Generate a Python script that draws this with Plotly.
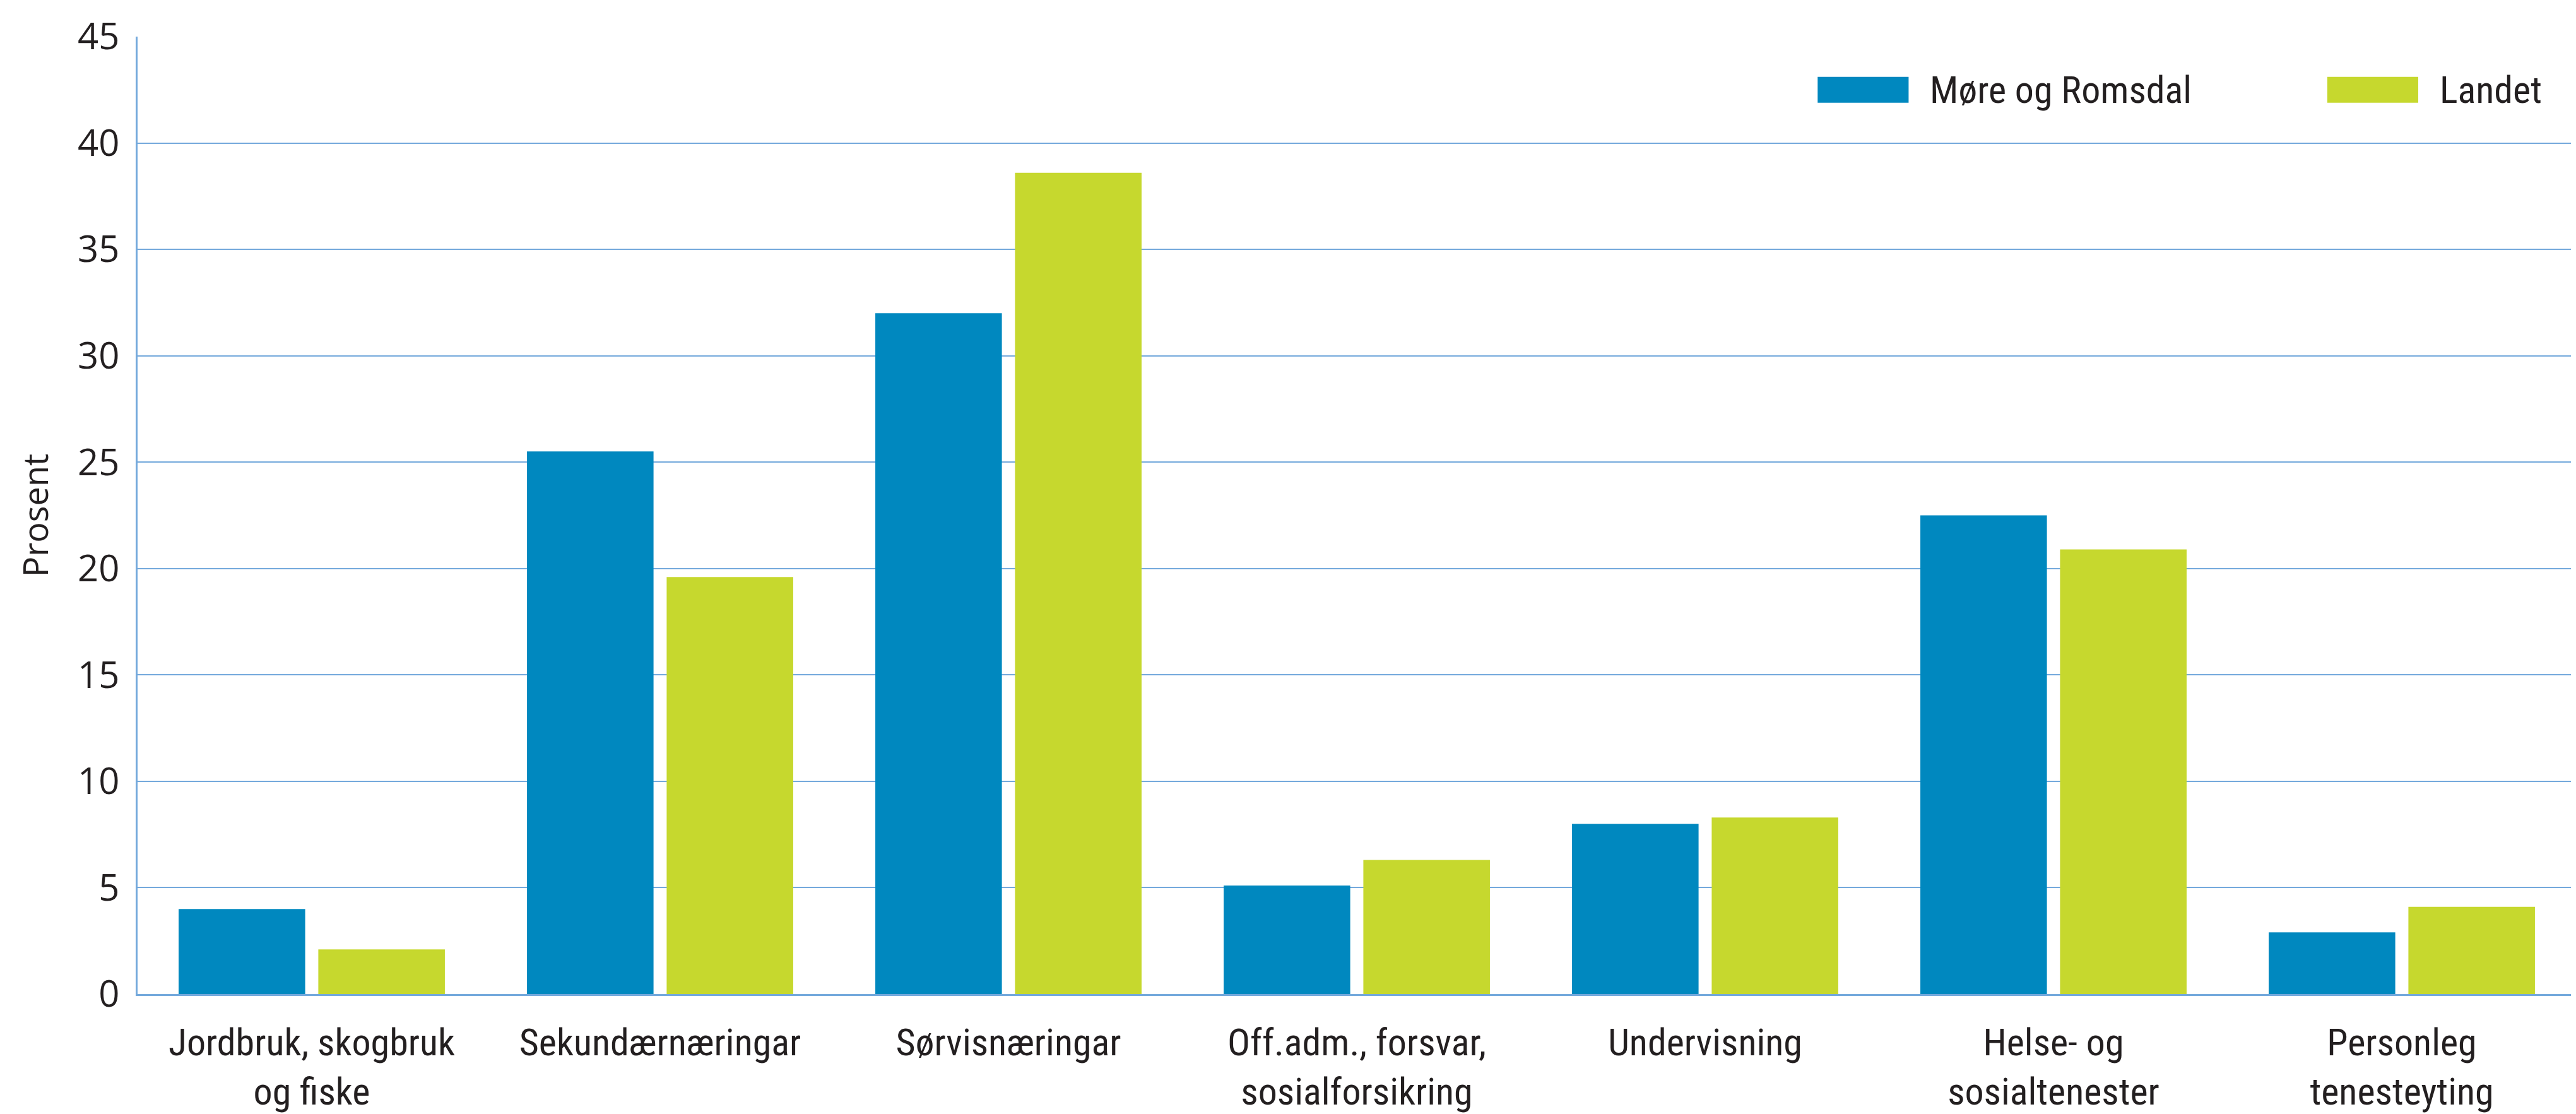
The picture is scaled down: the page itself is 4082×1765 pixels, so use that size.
import plotly.graph_objects as go

categories = [
    "Jordbruk, skogbruk<br>og fiske",
    "Sekundærnæringar",
    "Sørvisnæringar",
    "Off.adm., forsvar,<br>sosialforsikring",
    "Undervisning",
    "Helse- og<br>sosialtenester",
    "Personleg<br>tenesteyting",
]
more_romsdal = [4.0, 25.5, 32.0, 5.1, 8.0, 22.5, 2.9]
landet = [2.1, 19.6, 38.6, 6.3, 8.3, 20.9, 4.1]
series_names = ["Møre og Romsdal", "Landet"]
y_ticks = [0, 5, 10, 15, 20, 25, 30, 35, 40, 45]

BLUE = "#0088BF"
GREEN = "#C6D82E"
GRID = "#74A9DC"
TEXT = "#231F20"
NARROW = "Liberation Sans Narrow, Roboto Condensed, Arial Narrow, Roboto, sans-serif"
REGULAR = "Open Sans, Noto Sans, sans-serif"

fig = go.Figure()
fig.add_trace(go.Bar(x=categories, y=more_romsdal, name=series_names[0],
                     marker=dict(color=BLUE, line=dict(width=0))))
fig.add_trace(go.Bar(x=categories, y=landet, name=series_names[1],
                     marker=dict(color=GREEN, line=dict(width=0))))

fig.update_layout(
    width=4082, height=1765,
    margin=dict(l=210, r=8, t=38, b=178, pad=0),
    paper_bgcolor="white", plot_bgcolor="white",
    barmode="group", bargap=0.198, bargroupgap=0.094,
    showlegend=False,
    font=dict(family=REGULAR, color=TEXT, size=56),
)
fig.update_xaxes(
    showgrid=False, showline=True, linecolor=GRID, linewidth=3,
    ticks="", tickfont=dict(family=NARROW, size=60, color=TEXT),
    ticklabelstandoff=22,
)
fig.update_yaxes(
    range=[0, 45], tickvals=y_ticks, showgrid=True, gridcolor=GRID, gridwidth=2,
    showline=True, linecolor=GRID, linewidth=3, zeroline=False,
    ticks="", tickfont=dict(family=REGULAR, size=58, color=TEXT),
    ticklabelstandoff=14, ticklabeloverflow="allow",
    title=dict(text="Prosent", font=dict(family=REGULAR, size=54, color=TEXT), standoff=30),
)

# Legend drawn at top right
legend_items = [(series_names[0], BLUE, 0.689, 0.7345), (series_names[1], GREEN, 0.898, 0.9435)]
for name, col, x0, xt in legend_items:
    fig.add_shape(type="rect", xref="paper", yref="paper", x0=x0, x1=x0 + 0.0373,
                  y0=0.931, y1=0.958, fillcolor=col, line=dict(width=0))
    fig.add_annotation(xref="paper", yref="paper", x=xt, y=0.9445, text=name,
                       showarrow=False, xanchor="left", yanchor="middle",
                       font=dict(family=NARROW, size=60, color=TEXT))

fig.write_html("out.html")
